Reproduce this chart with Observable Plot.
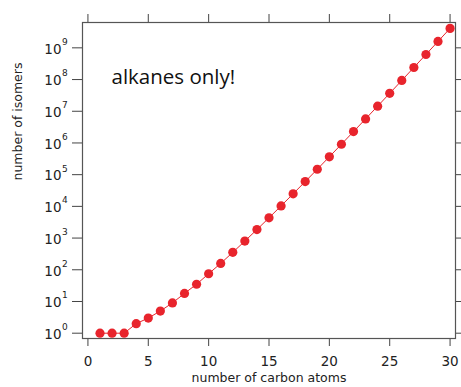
<!DOCTYPE html>
<html>
<head>
<meta charset="utf-8">
<script src="https://cdn.jsdelivr.net/npm/d3@7"></script>
<script src="https://cdn.jsdelivr.net/npm/@observablehq/plot@0.6"></script>
<style>
  html, body { margin: 0; padding: 0; background: #fff; }
  #chart svg { display: block; }
</style>
</head>
<body>
<div id="chart"></div>
<script>
const carbonAtoms = [1,2,3,4,5,6,7,8,9,10,11,12,13,14,15,16,17,18,19,20,21,22,23,24,25,26,27,28,29,30];
const isomerCounts = [1,1,1,2,3,5,9,18,35,75,159,355,802,1858,4347,10359,24894,60523,148284,366319,910726,2278658,5731580,14490245,36797588,93839412,240215803,617105614,1590507121,4111846763];
const xTicks = [0,5,10,15,20,25,30];
const yExponents = [0,1,2,3,4,5,6,7,8,9];
const annotation = ["alkanes only!"];
const xLabel = "number of carbon atoms";
const yLabel = "number of isomers";

const data = carbonAtoms.map((c, i) => ({c, n: isomerCounts[i]}));
const yTicks = yExponents.map(e => ({e, v: Math.pow(10, e)}));
const red = "#e8242c";
const axisColor = "#444";

const chart = Plot.plot({
  width: 461,
  height: 387,
  marginLeft: 82,
  marginRight: 6,
  marginTop: 22,
  marginBottom: 49,
  style: {fontFamily: "DejaVu Sans, sans-serif", fontSize: "13px", color: "#222", background: "#fff"},
  x: {domain: [-0.45, 30.45]},
  y: {type: "log", domain: [0.68, 6.3e9]},
  marks: [
    Plot.axisX({anchor: "bottom", ticks: xTicks, tickSize: 8, tickPadding: 10, stroke: axisColor, fontSize: 13.5, label: null, tickFormat: d => String(d)}),
    Plot.axisX({anchor: "top", ticks: xTicks, tickSize: 9, stroke: axisColor, text: null, label: null}),
    Plot.axisY({anchor: "left", ticks: yTicks.map(d => d.v), tickSize: 10, stroke: axisColor, text: null, label: null}),
    Plot.axisY({anchor: "right", ticks: yTicks.map(d => d.v), tickSize: 8, stroke: axisColor, text: null, label: null}),
    Plot.text(yTicks, {y: "v", text: d => "10", frameAnchor: "left", dx: -21, dy: 1.5, textAnchor: "end", fontSize: 13.5, fill: "#222"}),
    Plot.text(yTicks, {y: "v", text: d => String(d.e), frameAnchor: "left", dx: -20.5, dy: -6, textAnchor: "start", fontSize: 9, fill: "#222"}),
    Plot.frame({stroke: "#555", strokeWidth: 1.2}),
    Plot.line(data, {x: "c", y: "n", stroke: red, strokeWidth: 1}),
    Plot.dot(data, {x: "c", y: "n", r: 4.6, fill: red, stroke: "none"}),
    Plot.text(annotation, {text: d => d, frameAnchor: "top-left", dx: 29, dy: 55, textAnchor: "start", lineAnchor: "middle", fontSize: 20.5, fontFamily: "Open Sans, sans-serif", fill: "#111"}),
    Plot.text([xLabel], {text: d => d, frameAnchor: "bottom", dy: 43, fontSize: 12.5, fill: "#222"}),
    Plot.text([yLabel], {text: d => d, frameAnchor: "left", dx: -65, rotate: -90, fontSize: 12.5, fill: "#222"})
  ]
});
document.getElementById("chart").appendChild(chart);
</script>
</body>
</html>
